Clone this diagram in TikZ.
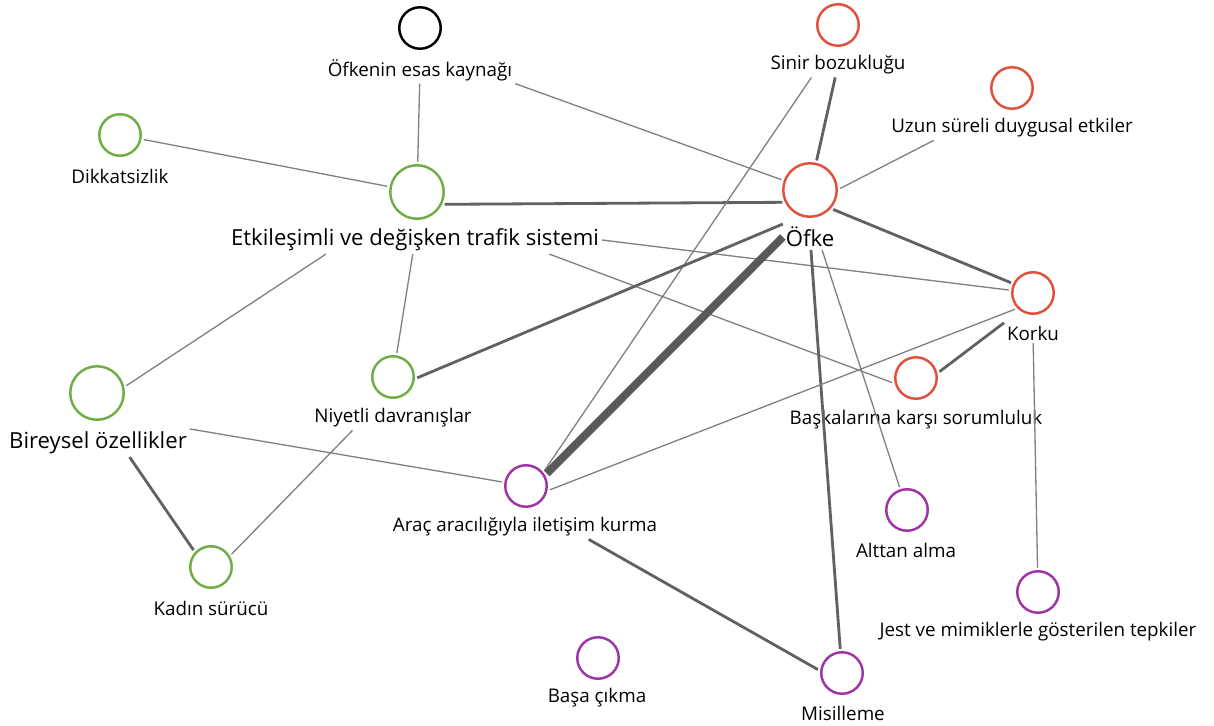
\documentclass[tikz,border=0pt]{standalone}
\usepackage{fontspec}
\setmainfont{Open Sans}
\usepackage{xcolor}
\usepackage{tikz}

\definecolor{kgreen}{HTML}{70AD47}
\definecolor{kred}{HTML}{E2503C}
\definecolor{kpurple}{HTML}{A033A6}

\begin{document}
\begin{tikzpicture}[x=0.02cm, y=-0.02cm,
    bubble/.style={circle, draw, line width=1.4pt, minimum size=0.83cm, inner sep=0pt, outer sep=2pt},
    bigbubble/.style={bubble, minimum size=1.07cm},
    lbl/.style={inner sep=1.5pt, font=\fontsize{10.7}{12}\selectfont},
    biglbl/.style={lbl, font=\fontsize{12.6}{14}\selectfont},
    weak/.style={draw=black!50, line width=0.75pt},
    mid/.style={draw=black!62, line width=1.6pt},
    strong/.style={draw=black!65, line width=4.5pt}]
    \useasboundingbox (0,0) rectangle (1214,726);

    % green
    \node[bubble, draw=kgreen] (dikkat) at (120,135) {};
    \node[lbl] (dikkat-t) at (120,176) {Dikkatsizlik};
    \node[bigbubble, draw=kgreen] (etkilesim) at (417,192) {};
    \node[biglbl] (etkilesim-t) at (415,240) {Etkileşimli ve değişken trafik sistemi};
    \node[bigbubble, draw=kgreen] (bireysel) at (97,393) {};
    \node[biglbl] (bireysel-t) at (98,443) {Bireysel özellikler};
    \node[bubble, draw=kgreen] (niyetli) at (393,377) {};
    \node[lbl] (niyetli-t) at (393,418) {Niyetli davranışlar};
    \node[bubble, draw=kgreen] (kadin) at (211,567) {};
    \node[lbl] (kadin-t) at (211,608) {Kadın sürücü};

    % black
    \node[bubble, draw=black] (kaynak) at (420,28) {};
    \node[lbl] (kaynak-t) at (420,70) {Öfkenin esas kaynağı};

    % red
    \node[bubble, draw=kred] (sinir) at (838,25) {};
    \node[lbl] (sinir-t) at (838,65) {Sinir bozukluğu};
    \node[bubble, draw=kred] (uzun) at (1012,88) {};
    \node[lbl] (uzun-t) at (1012,128) {Uzun süreli duygusal etkiler};
    \node[bigbubble, draw=kred] (ofke) at (810,190) {};
    \node[biglbl] (ofke-t) at (810,237) {Öfke};
    \node[bubble, draw=kred] (korku) at (1033,293) {};
    \node[lbl] (korku-t) at (1033,333) {Korku};
    \node[bubble, draw=kred] (baskalari) at (916,378) {};
    \node[lbl] (baskalari-t) at (916,420) {Başkalarına karşı sorumluluk};

    % purple
    \node[bubble, draw=kpurple] (arac) at (526,486) {};
    \node[lbl] (arac-t) at (525,527) {Araç aracılığıyla iletişim kurma};
    \node[bubble, draw=kpurple] (alttan) at (907,510) {};
    \node[lbl] (alttan-t) at (906,550) {Alttan alma};
    \node[bubble, draw=kpurple] (jest) at (1038,592) {};
    \node[lbl] (jest-t) at (1038,632) {Jest ve mimiklerle gösterilen tepkiler};
    \node[bubble, draw=kpurple] (basa) at (598,658) {};
    \node[lbl] (basa-t) at (597,698) {Başa çıkma};
    \node[bubble, draw=kpurple] (misilleme) at (842,673) {};
    \node[lbl] (misilleme-t) at (843,713) {Misilleme};

    % links
    \draw[weak] (kaynak-t) -- (etkilesim);
    \draw[weak] (kaynak-t.south east) -- (ofke);
    \draw[weak] (dikkat) -- (etkilesim);
    \draw[mid] (etkilesim.-24) -- (ofke.204);
    \draw[weak] (etkilesim-t.east) -- (korku);
    \draw[weak] (etkilesim-t.-6) -- (baskalari.191);
    \draw[weak] (etkilesim-t.189) -- (bireysel.14);
    \draw[weak] (etkilesim-t) -- (niyetli);
    \draw[mid] (sinir-t) -- (ofke);
    \draw[weak] (sinir-t.205) -- (arac.40);
    \draw[weak] (uzun-t.189) -- (ofke.3);
    \draw[mid] (ofke-t.north west) -- (niyetli.-2);
    \draw[strong] (ofke-t.west) -- (arac.31);
    \draw[mid] (ofke-t) -- (misilleme);
    \draw[weak] (ofke-t.-47) -- (alttan);
    \draw[mid] (ofke.-40) -- (korku.155);
    \draw[weak] (korku.222) -- (arac.-9);
    \draw[mid] (korku-t.north west) -- (baskalari.15);
    \draw[weak] (korku-t) -- (jest);
    \draw[weak] (bireysel-t.north east) -- (arac);
    \draw[mid] (bireysel-t.-24) -- (kadin.136);
    \draw[weak] (niyetli-t.197) -- (kadin.32);
    \draw[mid] (arac-t.-11) -- (misilleme.172);
\end{tikzpicture}
\end{document}
